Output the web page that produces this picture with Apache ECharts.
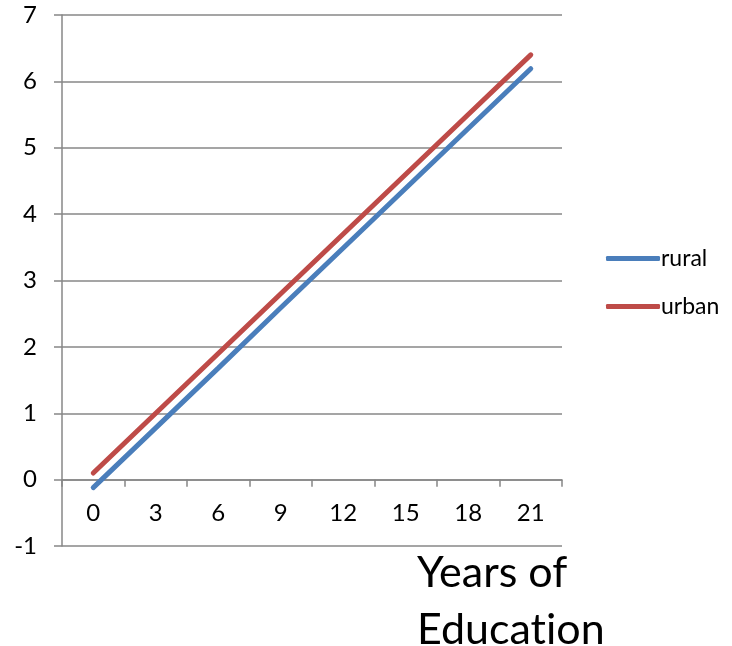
<!DOCTYPE html>
<html>
<head>
<meta charset="utf-8">
<script src="https://cdn.jsdelivr.net/npm/echarts@6/dist/echarts.min.js"></script>
<style>
  html, body { margin: 0; padding: 0; background: #ffffff; }
  #chart { width: 732px; height: 646px; }
</style>
</head>
<body>
<div id="chart"></div>
<script>
// Years of schooling on the x axis
const years = ['0', '3', '6', '9', '12', '15', '18', '21'];
// Predicted outcome by residence
const rural = [-0.12, 0.78, 1.68, 2.59, 3.49, 4.39, 5.29, 6.19];
const urban = [0.10, 1.00, 1.90, 2.80, 3.70, 4.60, 5.50, 6.40];
const seriesNames = ['rural', 'urban'];
// "Education" is split into two rich-text runs so "t" and "i" stay separate glyphs
const axisTitle = '{w|Years of}\n{w|Educat}{w|ion}';

const FONT = 'Lato, "Liberation Sans", sans-serif';
const GRID = '#878787';

const chart = echarts.init(document.getElementById('chart'), null, { renderer: 'canvas' });
chart.setOption({
  animation: false,
  backgroundColor: '#ffffff',
  textStyle: { fontFamily: FONT, color: '#000' },
  grid: { left: 62, right: 170, top: 15, bottom: 100, containLabel: false },
  title: {
    text: axisTitle,
    left: 412,
    top: 540,
    textStyle: {
      fontFamily: FONT, fontSize: 43, fontWeight: 'normal', color: '#000', lineHeight: 57,
      rich: { w: { fontFamily: FONT, fontSize: 43, color: '#000', lineHeight: 57 } }
    }
  },
  legend: {
    orient: 'vertical',
    left: 601,
    top: 242,
    itemWidth: 54,
    itemHeight: 5,
    itemGap: 25,
    icon: 'roundRect',
    textStyle: { fontFamily: FONT, fontSize: 23, color: '#000', padding: [0, 0, 0, -4] },
    data: seriesNames
  },
  xAxis: {
    type: 'category',
    data: years,
    boundaryGap: true,
    axisLine: { onZero: true, lineStyle: { color: GRID, width: 1.5 } },
    axisTick: { show: true, length: 7, lineStyle: { color: GRID, width: 1.5 } },
    // labels sit just under the zero line, inside the plot
    axisLabel: { margin: -45, fontSize: 24, color: '#000', fontFamily: FONT },
    splitLine: { show: false }
  },
  yAxis: {
    type: 'value',
    min: -1,
    max: 7,
    interval: 1,
    axisLine: { show: true, lineStyle: { color: GRID, width: 1.5 } },
    axisTick: { show: true, length: 8, lineStyle: { color: GRID, width: 1.5 } },
    axisLabel: { margin: 25, fontSize: 24, color: '#000', fontFamily: FONT },
    splitLine: { show: true, lineStyle: { color: GRID, width: 1.5 } }
  },
  series: [
    {
      name: seriesNames[0],
      type: 'line',
      data: rural,
      symbol: 'none',
      color: '#4a7ebb',
      lineStyle: { width: 5, color: '#4a7ebb', cap: 'round' },
      z: 3
    },
    {
      name: seriesNames[1],
      type: 'line',
      data: urban,
      symbol: 'none',
      color: '#be4b48',
      lineStyle: { width: 5, color: '#be4b48', cap: 'round' },
      z: 4
    }
  ]
});
</script>
</body>
</html>
